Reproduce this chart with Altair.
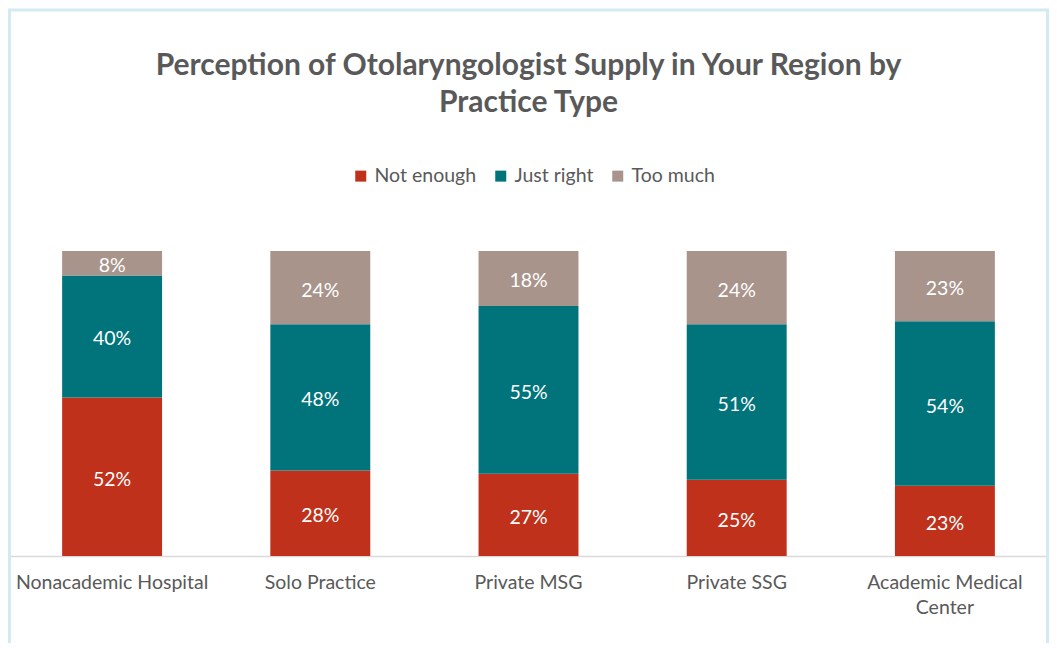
import altair as alt
import pandas as pd

categories = ["Nonacademic Hospital", "Solo Practice", "Private MSG", "Private SSG", "Academic Medical Center"]
series = ["Not enough", "Just right", "Too much"]
not_enough = [52, 28, 27, 25, 23]
just_right = [40, 48, 55, 51, 54]
too_much = [8, 24, 18, 24, 23]
colors = ["#BF311B", "#00737B", "#A8948B"]

rows = []
for i, c in enumerate(categories):
    for j, (s, vals) in enumerate(zip(series, [not_enough, just_right, too_much])):
        rows.append({"cat": c, "series": s, "value": vals[i], "order": j})
df = pd.DataFrame(rows)

FONT = "Lato"
GRAY = "#595959"

base = alt.Chart(df).transform_stack(
    stack="value", groupby=["cat"], as_=["y0", "y1"], sort=[alt.SortField("order", "ascending")]
).transform_calculate(
    mid="(datum.y0 + datum.y1) / 2", lbl="datum.value + '%'"
)

xenc = alt.X("cat:N", sort=categories, title=None,
             scale=alt.Scale(paddingInner=0.52, paddingOuter=0.26),
             axis=alt.Axis(labelAngle=0, ticks=False, domainColor="#D9D9D9", domainWidth=1.5,
                           labelFontSize=19.5, labelColor=GRAY, labelFont=FONT, labelPadding=26,
                           labelLineHeight=25, labelBaseline="middle", labelLimit=0,
                           labelExpr="datum.label == 'Academic Medical Center' ? ['Academic Medical', 'Center'] : datum.label"))

bars = base.mark_bar().encode(
    x=xenc,
    y=alt.Y("y0:Q", scale=alt.Scale(domain=[0, 100]), axis=None),
    y2="y1:Q",
    color=alt.Color("series:N", sort=series, scale=alt.Scale(domain=series, range=colors),
                    legend=alt.Legend(title=None, orient="none", direction="horizontal",
                                      legendX=343, legendY=-85, symbolType="square", symbolSize=121,
                                      symbolStrokeWidth=0, labelFontSize=19.5, labelFont=FONT,
                                      labelColor=GRAY, labelOffset=4, columnPadding=14)),
)

labels = base.mark_text(color="white", fontSize=19.5, font=FONT, dy=3).encode(
    x=alt.X("cat:N", sort=categories),
    y=alt.Y("mid:Q"),
    text="lbl:N",
)

border = alt.Chart(pd.DataFrame({"a": [0]})).mark_rect(
    fill=None, stroke="#D3EAF1", strokeWidth=3
).encode(x=alt.value(1.5), x2=alt.value(1039.5), y=alt.value(-241), y2=alt.value(500))

chart = alt.layer(bars, labels, border).properties(
    width=1041, height=305,
    autosize=alt.AutoSizeParams(type="none"),
    padding={"left": 0, "top": 243, "right": 0, "bottom": 87},
    title=alt.Title(["Perception of Otolaryngologist Supply in Your Region by", "Practice Type"],
                    fontSize=30, font=FONT, fontWeight="bold", color=GRAY, lineHeight=37,
                    anchor="middle", frame="group", offset=-109),
).configure_view(stroke=None)

chart.save("out.html", embed_options={"renderer": "svg", "actions": False})
